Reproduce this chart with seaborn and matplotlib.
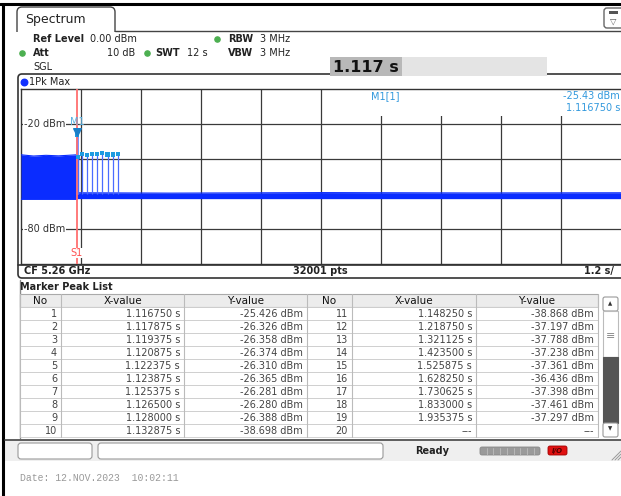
import matplotlib
matplotlib.use("Agg")
import matplotlib.pyplot as plt
import seaborn as sns
import pandas as pd
from matplotlib.patches import Rectangle, FancyBboxPatch

# trace envelope (time in s, level in dBm)
trace_t = [0.0, 0.25, 0.5, 0.75, 1.0, 1.116, 1.118, 3.0, 6.0, 9.0, 12.0]
trace_hi = [-37.6, -38.3, -37.9, -38.2, -37.8, -37.6, -59.3, -59.5, -59.2, -59.4, -59.3]
trace_lo = [-63.0, -63.0, -63.0, -63.0, -63.0, -63.0, -62.6, -62.6, -62.6, -62.6, -62.6]

# marker peak list
peak_no = list(range(1, 21))
peak_x = [1.116750, 1.117875, 1.119375, 1.120875, 1.122375, 1.123875, 1.125375,
          1.126500, 1.128000, 1.132875, 1.148250, 1.218750, 1.321125, 1.423500,
          1.525875, 1.628250, 1.730625, 1.833000, 1.935375, None]
peak_y = [-25.426, -26.326, -26.358, -26.374, -26.310, -26.365, -26.281,
          -26.280, -26.388, -38.698, -38.868, -37.197, -37.788, -37.238,
          -37.361, -36.436, -37.398, -37.461, -37.297, None]

y_ticks = [-20, -80]

sns.set_theme(style="white")
plt.rcParams['font.family'] = ['DejaVu Sans']

W, H = 621, 496
fig = plt.figure(figsize=(W / 100, H / 100), dpi=100)
fig.patch.set_facecolor("white")

# background axes in pixel coordinates for the instrument frame
bg = fig.add_axes([0, 0, 1, 1])
bg.set_xlim(0, W)
bg.set_ylim(H, 0)
bg.axis("off")

dark = "#333333"
blue_txt = "#3399dd"
green = "#4caf50"

# outer frame
bg.plot([0, W], [4, 4], color="black", lw=2.2)
bg.plot([3, 3], [4, H], color="black", lw=2.2)

# tab
tab = FancyBboxPatch((17, 7), 98, 34, boxstyle="round,pad=0,rounding_size=5",
                     fc="white", ec="#444444", lw=1)
bg.add_patch(tab)
bg.add_patch(Rectangle((16, 31.5), 101, 12, fc="white", ec="none", zorder=3))
bg.plot([115, W], [31, 31], color="#444444", lw=1, zorder=4)
bg.text(25, 19, "Spectrum", fontsize=9, va="center", color="#222222")

# top right icon
ico = FancyBboxPatch((604, 8), 20, 20, boxstyle="round,pad=0,rounding_size=3",
                     fc="white", ec="#666666", lw=1, zorder=5)
bg.add_patch(ico)
bg.add_patch(Rectangle((609, 11), 9, 3, fc="#555555", ec="none", zorder=6))
bg.text(613.5, 21, "\u25bd", fontsize=6, ha="center", va="center", color="#555555", zorder=6)

# header settings
fs = 7
def hdr(x, y, s, bold=False, ha="left"):
    bg.text(x, y, s, fontsize=fs, fontweight="bold" if bold else "normal",
            va="center", ha=ha, color="#222222")

def dot(x, y, c=green):
    bg.scatter([x], [y], s=14, color=c, zorder=5)

hdr(33, 39, "Ref Level", bold=True)
hdr(90, 39, "0.00 dBm")
dot(217, 39)
hdr(228, 39, "RBW", bold=True)
hdr(260, 39, "3 MHz")
dot(22, 53)
hdr(33, 53, "Att", bold=True)
hdr(135, 53, "10 dB", ha="right")
dot(147, 53)
hdr(155, 53, "SWT", bold=True)
hdr(187, 53, "12 s")
hdr(228, 53, "VBW", bold=True)
hdr(260, 53, "3 MHz")
hdr(33, 67, "SGL")

# trace box
box = FancyBboxPatch((18, 74), 620, 204, boxstyle="round,pad=0,rounding_size=4",
                     fc="white", ec=dark, lw=1.2, zorder=1)
bg.add_patch(box)
bg.add_patch(Rectangle((330, 57), 217, 19, fc="#e4e4e4", ec="none", zorder=3))
bg.add_patch(Rectangle((330, 57), 72, 19, fc="#b8b8b8", ec="none", zorder=3))
bg.text(333, 67, "1.117 s", fontsize=11.5, fontweight="bold", va="center",
        color="#111111", zorder=4)
bg.scatter([24], [82], s=22, color="#1030ff", zorder=5)
hdr(29, 82, "1Pk Max")
bg.plot([18, W], [264.5, 264.5], color=dark, lw=1.2, zorder=2)
hdr(24, 271, "CF 5.26 GHz", bold=True)
hdr(320, 271, "32001 pts", bold=True, ha="center")
hdr(614, 271, "1.2 s/", bold=True, ha="right")

# marker peak list
bg.plot([20, 20], [280, 438], color="#888888", lw=1, zorder=2)
hdr(20, 287, "Marker Peak List", bold=True)
col_edges = [20, 61, 184, 307, 352, 476, 598]
row_top = 294
row_h = 13
bg.add_patch(Rectangle((20, row_top), 578, row_h, fc="#ececec", ec="#aaaaaa", lw=0.8, zorder=2))
for k in range(10):
    y0 = row_top + row_h * (k + 1)
    bg.add_patch(Rectangle((20, y0), 578, row_h, fc="white", ec="#cccccc", lw=0.6, zorder=2))
for xe in col_edges:
    bg.plot([xe, xe], [row_top, row_top + row_h * 11], color="#bbbbbb", lw=0.8, zorder=3)
headers = ["No", "X-value", "Y-value", "No", "X-value", "Y-value"]
for j, h in enumerate(headers):
    xc = (col_edges[j] + col_edges[j + 1]) / 2
    bg.text(xc, row_top + row_h / 2 + 0.5, h, fontsize=7.5, ha="center", va="center",
            color="#111111", zorder=4)

peaks = pd.DataFrame({"no": peak_no, "x": peak_x, "y": peak_y})
for i, r in peaks.iterrows():
    side = 0 if i < 10 else 3
    yc = row_top + row_h * (i % 10 + 1) + row_h / 2 + 0.5
    xs = "---" if pd.isna(r["x"]) else f"{r['x']:.6f} s"
    ys = "---" if pd.isna(r["y"]) else f"{r['y']:.3f} dBm"
    for j, s in enumerate([str(int(r["no"])), xs, ys]):
        bg.text(col_edges[side + j + 1] - 4, yc, s, fontsize=7, ha="right",
                va="center", color="#444444", zorder=4)

# scrollbar
sx = 603
bg.add_patch(FancyBboxPatch((sx, 297), 15, 14, boxstyle="round,pad=0,rounding_size=2",
                            fc="white", ec="#999999", lw=0.8, zorder=3))
bg.text(sx + 7.5, 304, "\u25b2", fontsize=4, ha="center", va="center", color="#333333", zorder=4)
bg.add_patch(Rectangle((sx, 311), 15, 46, fc="white", ec="#bbbbbb", lw=0.8, zorder=3))
bg.text(sx + 7.5, 336, "\u2261", fontsize=8, ha="center", va="center", color="#888888", zorder=4)
bg.add_patch(Rectangle((sx, 357), 15, 66, fc="#555555", ec="#555555", lw=0.8, zorder=3))
bg.add_patch(FancyBboxPatch((sx, 423), 15, 14, boxstyle="round,pad=0,rounding_size=2",
                            fc="white", ec="#999999", lw=0.8, zorder=3))
bg.text(sx + 7.5, 429, "\u25bc", fontsize=4, ha="center", va="center", color="#333333", zorder=4)

# status bar
bg.add_patch(Rectangle((5, 440), W, 21, fc="#efefef", ec="none", zorder=1))
bg.plot([5, W], [440, 440], color="#444444", lw=1.2, zorder=2)
for x0, w in [(18, 74), (98, 285)]:
    bg.add_patch(FancyBboxPatch((x0, 443), w, 16, boxstyle="round,pad=0,rounding_size=3",
                                fc="white", ec="#999999", lw=0.8, zorder=3))
bg.text(432, 451, "Ready", fontsize=7, fontweight="bold", ha="center", va="center",
        color="#222222", zorder=4)
bg.add_patch(FancyBboxPatch((480, 447), 60, 8, boxstyle="round,pad=0,rounding_size=2",
                            fc="#9a9a9a", ec="#888888", lw=0.6, zorder=3))
for k in range(1, 9):
    bg.plot([480 + k * 6.7, 480 + k * 6.7], [447.5, 454.5], color="#bdbdbd", lw=0.6, zorder=4)
bg.add_patch(FancyBboxPatch((548, 446), 19, 9, boxstyle="round,pad=0,rounding_size=2",
                            fc="#e01010", ec="#a00000", lw=0.6, zorder=3))
bg.text(557.5, 450.5, "I/O", fontsize=5, fontweight="bold", style="italic",
        ha="center", va="center", color="#550000", zorder=4)
for k in range(3):
    bg.plot([612 + k * 3, 621], [460, 451 + k * 3], color="#999999", lw=0.7, zorder=4)

bg.text(20, 478, "Date: 12.NOV.2023  10:02:11", fontsize=7, family="Liberation Mono",
        va="center", color="#999999")

# trace diagram
ax = fig.add_axes([21 / W, (H - 264) / H, 600 / W, 175 / H])
ax.set_xlim(0, 12)
ax.set_ylim(-100, 0)
ax.set_facecolor("white")
ax.set_xticks([])
ax.set_yticks([])
for side in ["left", "top", "bottom"]:
    ax.spines[side].set_color(dark)
    ax.spines[side].set_linewidth(1)
ax.spines["right"].set_visible(False)

for k in range(1, 10):
    ax.axvline(k * 1.2, color="#3a3a3a", lw=0.9, zorder=1)
for v in [-20, -40, -60, -80]:
    ax.axhline(v, color="#3a3a3a", lw=0.9, zorder=1)
ax.add_patch(Rectangle((6.1, -15.4), 6.0, 15.5, fc="white", ec="none", zorder=2))

ax.fill_between(trace_t, trace_lo, trace_hi, color="#0a2cff", lw=0, zorder=3)
sns.lineplot(x=trace_t, y=trace_hi, ax=ax, color="#0a2cff", lw=0.8, zorder=3)
sns.lineplot(x=trace_t, y=trace_lo, ax=ax, color="#0a2cff", lw=0.8, zorder=3)

pk = peaks.dropna()
ax.vlines(pk["x"], -60, pk["y"], color="#4a6cff", lw=0.9, zorder=4)
sns.scatterplot(data=pk.iloc[1:], x="x", y="y", ax=ax, marker="s", s=9,
                color="#1e9be0", edgecolor="none", zorder=5)

ax.axvline(1.117, color="#ff7070", lw=1.3, zorder=4)
ax.text(1.117, -93.7, "S1", color="#ff5050", fontsize=7, ha="center", va="center",
        zorder=6, bbox=dict(fc="white", ec="none", pad=0.3))
ax.scatter([pk["x"].iloc[0]], [-24.8], marker="v", s=30, color="#1a7fc8", zorder=6)
ax.text(1.117, -18.9, "M1", color="#5ab0e0", fontsize=7, ha="center", va="center", zorder=6)

for v in y_ticks:
    ax.text(0.06, v, f"{v} dBm", fontsize=7, va="center", ha="left", color="#333333",
            zorder=6, bbox=dict(fc="white", ec="none", pad=0.4))

ax.text(7.0, -4.0, "M1[1]", fontsize=7, color=blue_txt, va="center", zorder=6)
ax.text(11.98, -4.0, "-25.43 dBm", fontsize=7, color=blue_txt, va="center", ha="right", zorder=6)
ax.text(11.98, -10.9, "1.116750 s", fontsize=7, color=blue_txt, va="center", ha="right", zorder=6)
ax.set_xlabel("")
ax.set_ylabel("")

fig.savefig("out.png", dpi=100)
